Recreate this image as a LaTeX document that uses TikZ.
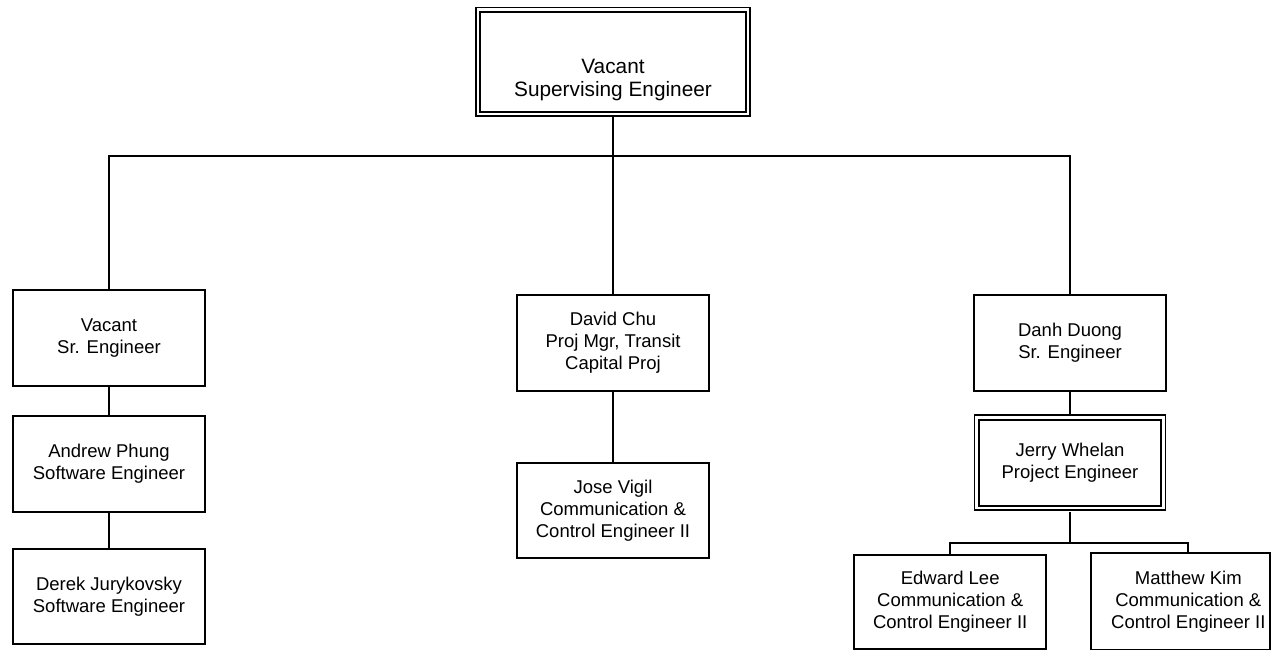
\documentclass[tikz,border=0pt]{standalone}
\usepackage{fontspec}
\setmainfont{Liberation Sans}
\begin{document}
\begin{tikzpicture}[x=1pt,y=-1pt,
  every path/.style={line width=1.9pt},
  box/.style={draw, line width=1.9pt, rectangle, align=center, inner sep=0pt,
    minimum width=192pt, font=\fontsize{18.5}{22}\selectfont},
  dbox/.style={box, line width=1.9pt, double, double distance=2.4pt, outer sep=3.6pt}]
\useasboundingbox (0,0) rectangle (1271,650);
\fill[white] (0,0) rectangle (1271,650);

\node[dbox, minimum width=269.7pt, minimum height=104.2pt,
      font=\fontsize{20.8}{23.5}\selectfont] (tb) at (613,61.75)
  {\rule{0pt}{51pt}Vacant\\Supervising Engineer};

\node[box, minimum height=96pt] (lb1) at (109,338.1) {Vacant\\Sr. Engineer};
\node[box, minimum height=95.7pt] (lb2) at (109,464.2) {Andrew Phung\\Software Engineer};
\node[box, minimum height=95.5pt] (lb3) at (109,596.3) {Derek Jurykovsky\\Software Engineer};

\node[box, minimum width=192.3pt, minimum height=95.7pt] (dc) at (613,343.1)
  {David Chu\\Proj Mgr, Transit\\Capital Proj};
\node[box, minimum width=192.3pt, minimum height=95.3pt] (jv) at (613,510.7)
  {Jose Vigil\\Communication \&\\Control Engineer II};

\node[box, minimum height=95.5pt] (dd) at (1070,343) {Danh Duong\\Sr. Engineer};
\node[dbox, minimum width=186.7pt, minimum height=90.7pt] (jw) at (1070,462.8)
  {Jerry Whelan\\Project Engineer};

\node[box, minimum width=191.7pt, minimum height=94.3pt] (el) at (950.2,602.2)
  {Edward Lee\\Communication \&\\Control Engineer II};
\node[box, draw=none, minimum height=95.3pt] (mk) at (1188.3,601.65)
  {Matthew Kim\\Communication \&\\Control Engineer II};
\coordinate (rEdge) at (1270,0);
\draw (mk.north west) rectangle (mk.south east -| rEdge);

\coordinate (bus) at (613,156.3);
\coordinate (jbus) at (1070,542.7);

\draw (tb.south) -- (dc.north);
\draw (lb1.north) |- (bus) -| (dd.north);
\draw (lb1.south) -- (lb2.north);
\draw (lb2.south) -- (lb3.north);
\draw (dc.south) -- (jv.north);
\draw (dd.south) -- (jw.north);
\draw (jw.south) -- (jbus);
\draw (el.north) |- (jbus) -| (mk.north);
\end{tikzpicture}
\end{document}
